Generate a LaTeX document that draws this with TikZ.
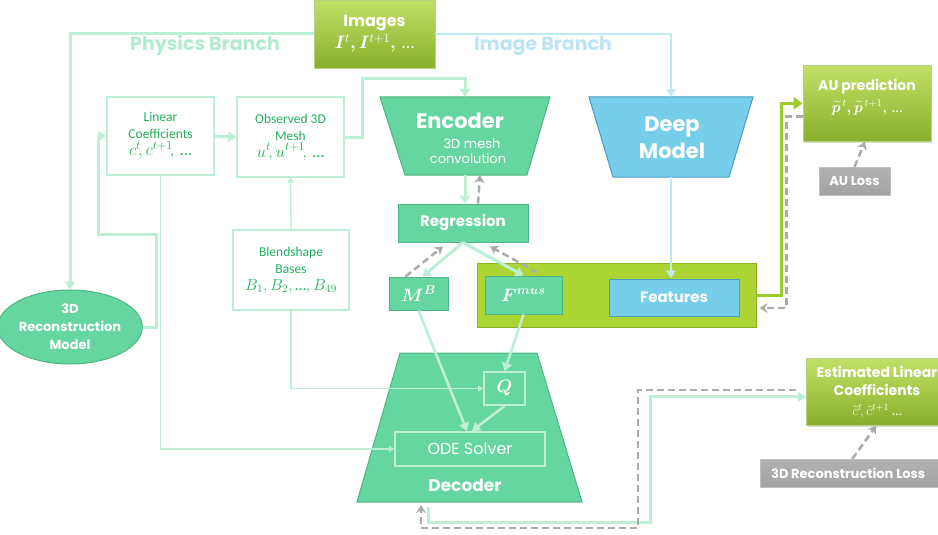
\RequirePackage{fix-cm}
\documentclass[tikz,border=0pt]{standalone}
\usepackage{amsmath,bm}
\usepackage{fontspec}
\setmainfont{Carlito}
\newfontfamily\geo{Poppins}
\usetikzlibrary{arrows.meta,shapes.geometric,shadows}

\definecolor{mint}{HTML}{BDEFD6}
\definecolor{mintfill}{HTML}{66D6A0}
\definecolor{mintdark}{HTML}{4DB585}
\definecolor{leaf}{HTML}{1DB25A}
\definecolor{sky}{HTML}{76CEEA}
\definecolor{skydark}{HTML}{4A9DC0}
\definecolor{skyline}{HTML}{C2E8F7}
\definecolor{lime}{HTML}{ACD432}
\definecolor{limedark}{HTML}{8DB22A}
\definecolor{limeline}{HTML}{9ACD2A}
\definecolor{limetop}{HTML}{C2E067}
\definecolor{limebot}{HTML}{8AAE2C}
\definecolor{lossgrey}{HTML}{A3A3A3}
\definecolor{dashgrey}{HTML}{ABABAB}
\definecolor{physics}{HTML}{B3EBCF}
\definecolor{imagetxt}{HTML}{BCE4F5}

% tight ellipsis taken from the text font
\newcommand{\bdots}{\mbox{\normalfont …}}
\newcommand{\mathline}[2]{{\fontsize{#1}{#1}\selectfont$#2$}}

\tikzset{
  plainbox/.style={draw=mint, line width=1.3pt, text=leaf, align=center,
    font=\fontsize{13.5}{17}\selectfont, inner sep=0pt},
  mintbox/.style={fill=mintfill, draw=mintdark, line width=1pt, text=white,
    align=center, inner sep=0pt},
  skybox/.style={fill=sky, draw=skydark, line width=1pt, text=white,
    align=center, inner sep=0pt},
  gradbox/.style={top color=limetop, bottom color=limebot, draw=limedark!60,
    line width=0.6pt, text=white, align=center, inner sep=0pt,
    drop shadow={shadow xshift=1.2pt, shadow yshift=-1.5pt, opacity=0.3}},
  lossbox/.style={top color=lossgrey!85, bottom color=lossgrey, draw=lossgrey!70,
    text=white, align=center, inner sep=0pt,
    font=\geo\bfseries\fontsize{13}{15}\selectfont},
  ghostbox/.style={draw=mint, line width=2pt, text=white, align=center, inner sep=0pt},
  flow/.style={draw=mint, line width=3pt, -{Triangle[length=8pt,width=10pt]}},
  thinflow/.style={draw=mint, line width=1.3pt, -{Triangle[length=5pt,width=6pt]}},
  skyflow/.style={draw=skyline, line width=2.6pt, -{Triangle[length=8pt,width=9pt]}},
  limeflow/.style={draw=limeline, line width=3pt, -{Triangle[length=9pt,width=12pt]}},
  gradflow/.style={draw=dashgrey, line width=2.5pt, dash pattern=on 7pt off 4pt,
    -{Stealth[length=8pt,width=10pt]}},
  bigbold/.style={font=\geo\bfseries\fontsize{21}{27}\selectfont, text=white},
  boldtxt/.style={font=\geo\bfseries\fontsize{14}{19}\selectfont, text=white, align=center},
}

\begin{document}
\begin{tikzpicture}[x=1pt,y=-1pt]
\useasboundingbox (0,0) rectangle (938,535);
\clip (0,0) rectangle (938,535);

% branch titles
\node[font=\geo\bfseries\fontsize{19}{22}\selectfont, text=physics] (phys) at (205,45) {Physics Branch};
\node[font=\geo\bfseries\fontsize{19}{22}\selectfont, text=imagetxt] (imgbr) at (543,46) {Image Branch};

% input images
\node[gradbox, minimum width=121pt, minimum height=68pt,
  font=\geo\bfseries\fontsize{16}{22}\selectfont] (img) at (374.5,34)
  {Images\\ \mathline{18}{\bm{I}^{t}\bm{,}\bm{I}^{t+1}\bm{,}\,\bdots}};

% physics branch boxes
\node[plainbox, minimum width=107pt, minimum height=78pt] (lc) at (160.5,136)
  {Linear\\Coefficients\\ \mathline{17}{c^{t}\!,c^{t+1}\!,\,\bdots}};
\node[plainbox, minimum width=107pt, minimum height=80pt] (om) at (290.5,137)
  {Observed 3D\\Mesh\\ \mathline{17}{u^{t}\!,u^{t+1}\!,\,\bdots}};
\node[plainbox, minimum width=116pt, minimum height=80pt] (bs) at (291,270)
  {Blendshape\\Bases\\ \mathline{16}{B_1,B_2,\bdots,B_{49}}};
\node[ellipse, mintbox, minimum width=126pt, minimum height=74pt,
  font=\geo\bfseries\fontsize{13}{18}\selectfont] (rec) at (70,327)
  {3D\\Reconstruction\\Model};

% encoder
\coordinate (encN) at (465,97);
\coordinate (encS) at (465,175);
\filldraw[fill=mintfill, draw=mintdark, line width=1pt]
  (380,97) -- (550,97) -- (527,175) -- (405,175) -- cycle;
\node[bigbold] (enctxt) at (460,121) {Encoder};
\node[font=\geo\fontsize{13}{15.5}\selectfont, text=white, align=center] (encsub) at (468,151)
  {\hspace*{8pt}3D mesh\\convolution};

% deep model
\coordinate (deepN) at (671,97);
\coordinate (deepS) at (671,177);
\filldraw[fill=sky, draw=skydark, line width=1pt]
  (589,97) -- (753,97) -- (729,177) -- (613,177) -- cycle;
\node[bigbold, align=center] (deeptxt) at (672,138) {Deep\\Model};

% regression and outputs
\node[mintbox, minimum width=130pt, minimum height=38pt,
  font=\geo\bfseries\fontsize{15}{18}\selectfont] (reg) at (463,223) {Regression};
\node[fill=lime, draw=limedark, line width=1pt, minimum width=279pt, minimum height=64pt] (cont) at (616.5,295) {};
\node[mintbox, minimum width=59pt, minimum height=33pt,
  font=\fontsize{18}{18}\selectfont] (mb) at (418.5,293.5) {$\bm{M^{B}}$};
\node[mintbox, minimum width=77pt, minimum height=38pt,
  font=\fontsize{18}{18}\selectfont] (fm) at (523.5,295) {$\bm{F^{mus}}$};
\node[skybox, minimum width=130pt, minimum height=37pt,
  font=\geo\bfseries\fontsize{15}{18}\selectfont] (feat) at (674,297.5) {Features};

% decoder
\filldraw[fill=mintfill, draw=mintdark, line width=1pt]
  (400,353) -- (537,353) -- (582,502) -- (357,502) -- cycle;
\node[font=\geo\bfseries\fontsize{17}{20}\selectfont, text=white] (dectxt) at (465,485) {Decoder};
\node[ghostbox, minimum width=41pt, minimum height=33pt,
  font=\fontsize{18}{18}\selectfont] (q) at (504.5,388.5) {$\bm{Q}$};
\node[ghostbox, minimum width=150pt, minimum height=34pt,
  font=\geo\fontsize{16}{18}\selectfont] (ode) at (470,449) {ODE Solver};
\coordinate (decfb) at (428,507);
\coordinate (decdash) at (421,505);

% outputs on the right
\node[gradbox, minimum width=128pt, minimum height=76pt, anchor=north] (aup) at (867,65) {};
\node[boldtxt, font=\geo\bfseries\fontsize{14}{20}\selectfont] (auptxt) at (867,97)
  {AU prediction\\[2pt] \mathline{15}{\widetilde{\bm p}^{\,t}\bm{,}\widetilde{\bm p}^{\,t+1}\bm{,}\,\bdots}};
\node[lossbox, minimum width=71pt, minimum height=28pt] (auloss) at (854.5,181) {AU Loss};

\node[gradbox, minimum width=140pt, minimum height=67pt, anchor=north west] (est) at (806,358) {};
\node[boldtxt, font=\geo\bfseries\fontsize{14}{18}\selectfont] (esttxt) at (877,392)
  {Estimated Linear\\Coefficients\\[2pt] \mathline{14}{\tilde{c}^{t}\!,\tilde{c}^{t+1}\ \bdots}};
\node[lossbox, minimum width=190pt, minimum height=28pt, anchor=north west] (recloss) at (760,459)
  {\hspace*{-14pt}3D Reconstruction Loss};

% physics branch connectors
\draw[flow] (img.west) -| (rec.north);
\draw[flow] (rec.east) -- ++(14,0) -- ++(0,-93) -- ++(-58,0) |- (lc.west);
\draw[flow] (lc.east) -- (om.west);
\draw[flow] (om.east) -- ++(18,0) -- ++(0,-58) -| (encN);
\draw[thinflow] (bs.north) -- (om.south);
\draw[thinflow] (bs.south) |- (q.west);
\draw[thinflow] (lc.south) |- (ode.west);

% encoder / regression connectors
\draw[flow] (encS) -- (encS |- reg.north);
\draw[gradflow] ([xshift=15pt]reg.north) -- ([xshift=15pt]encS);
\draw[flow] (reg.south) -- ([xshift=4pt]mb.north);
\draw[flow] (reg.south) -- (fm.north);
\draw[gradflow] ([xshift=-13pt]mb.north) -- ([xshift=-20pt,yshift=-4pt]reg.south);
\draw[gradflow] ([xshift=14pt,yshift=3pt]fm.north) -- ([xshift=27pt,yshift=-4pt]reg.south);

% into the decoder
\draw[flow, line width=2.6pt] (mb.south) -- ([xshift=-3pt]ode.north);
\draw[flow, line width=2.6pt] (fm.south) -- (q.north);
\draw[flow, line width=2.6pt] (q.south) -- ([xshift=2pt]ode.north);

% image branch connectors
\draw[skyflow] (img.east) -| (deepN);
\draw[skyflow] (deepS) -- (deepS |- feat.north);

% to AU prediction and back
\draw[limeflow] (cont.east) -- ++(25,0) |- (aup.west);
\draw[gradflow] ([yshift=-13pt]aup.west) -- ++(-16,0) |- ([xshift=3pt,yshift=-13pt]cont.east);
\draw[gradflow] (auloss.north) -- ([xshift=-2pt]aup.south);

% decoder to estimated coefficients and back
\draw[flow] (decfb) -- ++(0,15) -- ++(222,0) |- ([yshift=-5pt]est.west);
\draw[gradflow] ([xshift=-10pt,yshift=2pt]est.west) -- ++(-158,0) -- ++(0,138) -| (decdash);
\draw[gradflow] ([xshift=-3pt]recloss.north) -- (est.south);
\end{tikzpicture}
\end{document}
